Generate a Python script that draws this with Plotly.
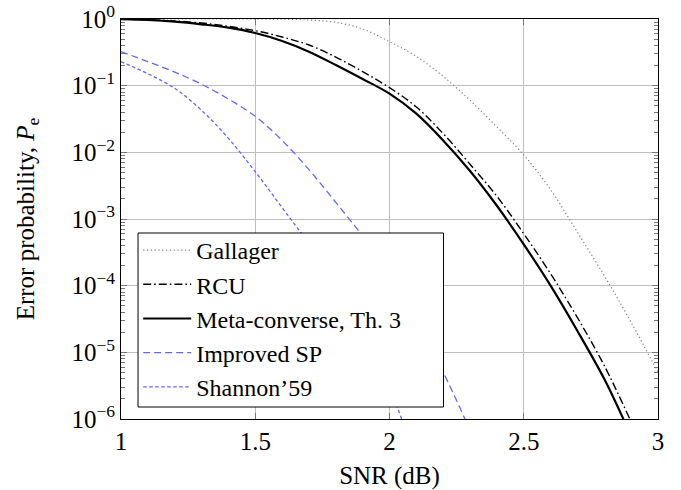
import plotly.graph_objects as go

# ---- data (SNR in dB, error probability) ----
gallager_snr = [1.0, 1.2, 1.4, 1.5, 1.6, 1.7, 1.8, 1.9, 2.0, 2.1, 2.2, 2.3, 2.4, 2.5, 2.6, 2.7, 2.8, 2.9, 3.0]
gallager_pe = [1.0, 1.0, 1.0, 1.0, 0.993, 0.966, 0.891, 0.708, 0.457, 0.275, 0.138, 0.0603, 0.0240,
               9.12e-3, 2.75e-3, 6.31e-4, 1.41e-4, 2.82e-5, 5.01e-6]

rcu_snr = [1.0, 1.1, 1.2, 1.3, 1.4, 1.5, 1.6, 1.7, 1.8, 1.9, 2.0, 2.1, 2.2, 2.3, 2.4, 2.5, 2.6, 2.7, 2.8, 2.895]
rcu_pe = [0.995, 0.977, 0.933, 0.871, 0.776, 0.668, 0.537, 0.407, 0.269, 0.162, 0.0933, 0.0479, 0.0191,
          6.61e-3, 2.19e-3, 6.03e-4, 1.51e-4, 3.31e-5, 6.31e-6, 1.0e-6]

meta_snr = [1.0, 1.1, 1.2, 1.3, 1.4, 1.5, 1.6, 1.7, 1.8, 1.9, 2.0, 2.1, 2.2, 2.3, 2.4, 2.5, 2.6, 2.7, 2.8, 2.871]
meta_pe = [0.993, 0.966, 0.912, 0.832, 0.741, 0.617, 0.468, 0.324, 0.204, 0.126, 0.0759, 0.0380, 0.0151,
           5.25e-3, 1.58e-3, 4.17e-4, 1.0e-4, 2.09e-5, 3.98e-6, 1.0e-6]

isp_snr = [1.0, 1.1, 1.2, 1.3, 1.4, 1.5, 1.6, 1.7, 1.8, 1.9, 2.0, 2.1, 2.2, 2.281]
isp_pe = [0.324, 0.229, 0.160, 0.105, 0.0631, 0.0347, 0.0151, 5.50e-3, 1.78e-3, 5.50e-4, 1.41e-4,
          2.82e-5, 5.01e-6, 1.0e-6]

sh59_snr = [1.0, 1.1, 1.2, 1.3, 1.4, 1.5, 1.6, 1.7, 1.8, 1.9, 2.0, 2.045]
sh59_pe = [0.229, 0.151, 0.0912, 0.0427, 0.0162, 5.13e-3, 1.48e-3, 4.27e-4, 1.07e-4, 2.14e-5, 3.02e-6, 1.0e-6]

x_tickvals = [1, 1.5, 2, 2.5, 3]
x_ticktext = ["1", "1.5", "2", "2.5", "3"]
y_tickvals = [1, 1e-1, 1e-2, 1e-3, 1e-4, 1e-5, 1e-6]
y_ticktext = ["10<sup>0</sup>", "10<sup>−1</sup>", "10<sup>−2</sup>", "10<sup>−3</sup>",
              "10<sup>−4</sup>", "10<sup>−5</sup>", "10<sup>−6</sup>"]
y_minor = [m * 10.0 ** k for k in range(-6, 0) for m in range(2, 10)]

BLUE = "rgb(102,102,255)"
FONT = "Liberation Serif"

fig = go.Figure()
fig.add_trace(go.Scatter(x=gallager_snr, y=gallager_pe, name="Gallager", mode="lines",
                         line=dict(color="rgb(128,128,128)", width=1.2, dash="1.2px,2.6px", shape="spline")))
fig.add_trace(go.Scatter(x=rcu_snr, y=rcu_pe, name="RCU", mode="lines",
                         line=dict(color="black", width=1.4, dash="8px,3px,1.6px,3px", shape="spline")))
fig.add_trace(go.Scatter(x=meta_snr, y=meta_pe, name="Meta-converse, Th. 3", mode="lines",
                         line=dict(color="black", width=2.2, shape="spline")))
fig.add_trace(go.Scatter(x=isp_snr, y=isp_pe, name="Improved SP", mode="lines",
                         line=dict(color=BLUE, width=1.3, dash="7px,4px", shape="spline")))
fig.add_trace(go.Scatter(x=sh59_snr, y=sh59_pe, name="Shannon’59", mode="lines",
                         line=dict(color=BLUE, width=1.3, dash="3.5px,2.5px", shape="spline")))

# legend frame (opaque white box with black border, drawn above the curves)
fig.add_shape(type="rect", xref="paper", yref="paper", x0=0.0317, x1=0.6006, y0=0.03, y1=0.465,
              fillcolor="white", line=dict(color="black", width=1), layer="above")

fig.update_layout(
    width=681, height=490,
    margin=dict(l=121, r=23, t=19, b=71, autoexpand=False),
    paper_bgcolor="white", plot_bgcolor="white",
    font=dict(family=FONT, size=25, color="black"),
    showlegend=True,
    legend=dict(x=0.032, y=0.025, xanchor="left", yanchor="bottom",
                bgcolor="rgba(0,0,0,0)", borderwidth=0,
                font=dict(family=FONT, size=24, color="black"),
                tracegroupgap=0, itemwidth=48),
)
fig.update_xaxes(
    range=[1, 3], tickmode="array", tickvals=x_tickvals, ticktext=x_ticktext,
    showgrid=True, gridcolor="rgb(190,190,190)", gridwidth=1,
    showline=True, linecolor="black", linewidth=1, mirror="allticks",
    ticks="inside", ticklen=6, tickcolor="rgb(120,120,120)",
    tickfont=dict(family=FONT, size=25), zeroline=False, automargin=False,
    title=dict(text="SNR (dB)", font=dict(family=FONT, size=25), standoff=14),
)
fig.update_yaxes(
    type="log", range=[-6, 0], tickmode="array", tickvals=y_tickvals, ticktext=y_ticktext,
    showgrid=True, gridcolor="rgb(190,190,190)", gridwidth=1,
    showline=True, linecolor="black", linewidth=1, mirror="allticks",
    ticks="inside", ticklen=6, tickcolor="rgb(120,120,120)",
    minor=dict(tickmode="array", tickvals=y_minor, ticks="inside", ticklen=4,
               tickcolor="rgb(120,120,120)", showgrid=False),
    tickfont=dict(family=FONT, size=25), zeroline=False, automargin=False,
    title=dict(text="Error probability, <i>P</i><sub>e</sub>", font=dict(family=FONT, size=25), standoff=29),
)

fig.write_html("out.html", config={"displayModeBar": False},
               post_script="document.body.style.margin='0px';document.body.style.padding='0px';")
